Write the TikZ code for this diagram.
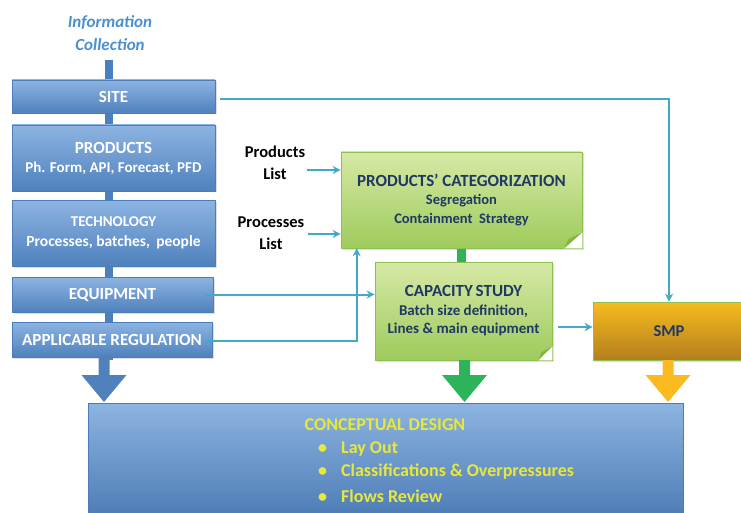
\documentclass[tikz,border=0pt]{standalone}
\usepackage{fontspec}
\setmainfont{Carlito}
\usetikzlibrary{shadows,arrows.meta}
\definecolor{boxtop}{HTML}{8DB4E2}
\definecolor{boxbot}{HTML}{4F81BD}
\definecolor{boxline}{HTML}{4A7EBB}
\definecolor{spine}{HTML}{4A7FC0}
\definecolor{greentop}{HTML}{D6E9A6}
\definecolor{greenbot}{HTML}{9ECB5C}
\definecolor{greenline}{HTML}{8CC152}
\definecolor{greenfold}{HTML}{86B447}
\definecolor{greenbar}{HTML}{2DB35A}
\definecolor{ambertop}{HTML}{F6BC1E}
\definecolor{amberbot}{HTML}{B47E1E}
\definecolor{amberarrow}{HTML}{FBBB20}
\definecolor{teal}{HTML}{43A9C4}
\definecolor{navy}{HTML}{1F3864}
\definecolor{titleblue}{HTML}{4A90CF}
\definecolor{hiyellow}{HTML}{E8E83A}
\tikzset{
  softshadow/.style={drop shadow={opacity=0.25,shadow xshift=1.5pt,shadow yshift=-1.5pt}},
  bluebox/.style={draw=boxline,line width=0.6pt,top color=boxtop,bottom color=boxbot,
    inner sep=0pt,align=center,text=white,softshadow},
  greenbox/.style={draw=greenline,line width=0.6pt,top color=greentop,bottom color=greenbot,
    inner sep=0pt,align=center,text=navy,softshadow},
  amberbox/.style={draw=greenline,line width=0.6pt,top color=ambertop,bottom color=amberbot,
    inner sep=0pt,align=center,text=navy,font=\bfseries\fontsize{16.5}{19}\selectfont,softshadow},
  conn/.style={draw=teal,line width=2pt,-{Stealth[length=8pt,width=8pt]}},
  label/.style={align=center,font=\bfseries\fontsize{16.5}{22}\selectfont,text=black},
  big/.style={font=\bfseries\fontsize{17}{19}\selectfont},
  cdtext/.style={text=hiyellow,font=\bfseries\fontsize{18}{20}\selectfont},
}
% block arrow: #1 centre x, #2 top y, #3 colour
\newcommand{\blkarrow}[3]{%
  \fill[#3] (#1-5.5,#2) -- (#1+5.5,#2) -- (#1+5.5,375) -- (#1+22.5,375)
    -- (#1,402) -- (#1-22.5,375) -- (#1-5.5,375) -- cycle;}
\begin{document}
\begin{tikzpicture}[x=1pt,y=-1pt]
\useasboundingbox (0,0) rectangle (741,513);

% title
\node[align=center,text=titleblue,font=\bfseries\itshape\fontsize{17}{23}\selectfont] (title) at (110,33) {Information\\Collection};

% vertical spine behind the input boxes
\fill[spine] (105,60) rectangle (113,360);

% input boxes
\node[bluebox,minimum width=203pt,minimum height=33pt,big] (site) at (113.5,96.5) {SITE};
\node[bluebox,minimum width=203pt,minimum height=66pt,font=\bfseries\fontsize{15}{19}\selectfont] (prod) at (113.5,158)
  {{\fontsize{17}{19}\selectfont PRODUCTS}\\Ph. Form, API, Forecast, PFD};
\node[bluebox,minimum width=203pt,minimum height=66pt,font=\bfseries\fontsize{15.5}{20}\selectfont] (tech) at (113.5,233)
  {{\fontsize{15}{20}\selectfont TECHNOLOGY}\\Processes, batches,\, people};
\node[bluebox,minimum width=201pt,minimum height=35pt,big] (equip) at (112.5,294.5) {EQUIPMENT};
\node[bluebox,minimum width=200pt,minimum height=35pt,big] (reg) at (112,339.5) {APPLICABLE REGULATION};

% conceptual design box
\node[draw=boxline,line width=0.6pt,top color=boxtop,bottom color=boxbot!95!black,
  minimum width=595pt,minimum height=117pt,inner sep=0pt] (concept) at (385.5,461.5) {};
\node[cdtext] (cdtitle) at (385,425) {CONCEPTUAL DESIGN};
\node[cdtext,anchor=west,inner sep=0pt] (cd1) at (318,449) {\textbullet\hspace{14pt}Lay Out};
\node[cdtext,anchor=west,inner sep=0pt] (cd2) at (318,472) {\textbullet\hspace{14pt}Classifications \& Overpressures};
\node[cdtext,anchor=west,inner sep=0pt] (cd3) at (318,496) {\textbullet\hspace{14pt}Flows Review};

% green link between the two study boxes
\fill[greenbar] (457,246) rectangle (466,264);

% study boxes with a folded lower right corner
\node[greenbox,minimum width=241pt,minimum height=96pt,font=\bfseries\fontsize{14.5}{18.5}\selectfont] (cat) at (461.5,200)
  {{\fontsize{17}{19}\selectfont PRODUCTS' CATEGORIZATION}\\
   Segregation\\
   Containment\ \ Strategy};
\fill[white] (cat.south east) -- ([yshift=16pt]cat.south east) -- ([xshift=-18pt]cat.south east) -- cycle;
\fill[greenfold] ([yshift=16pt]cat.south east) -- ([xshift=-18pt]cat.south east) -- ([xshift=-14pt,yshift=9pt]cat.south east) -- cycle;

\node[greenbox,minimum width=177pt,minimum height=98pt,font=\bfseries\fontsize{15}{18.5}\selectfont] (cap) at (463.5,311)
  {{\fontsize{17}{19}\selectfont CAPACITY\,STUDY}\\
   Batch size definition,\\
   Lines \& main equipment};
\fill[white] (cap.south east) -- ([yshift=14pt]cap.south east) -- ([xshift=-14pt]cap.south east) -- cycle;
\fill[greenfold] ([yshift=14pt]cap.south east) -- ([xshift=-14pt]cap.south east) -- ([xshift=-11pt,yshift=8pt]cap.south east) -- cycle;

\node[amberbox,minimum width=152pt,minimum height=58pt] (smp) at (669,331) {SMP};

% side inputs
\node[label] (plist) at (275,163) {Products\\List};
\node[label] (pclist) at (271,233) {Processes\\List};

% connectors
\draw[conn] ([xshift=5pt,yshift=-3pt]site.east) -| (smp.north);
\draw[conn] ([xshift=-2pt,yshift=-7pt]plist.east) -- ([yshift=-7pt]plist.east -| cat.west);
\draw[conn] ([xshift=0pt,yshift=-1pt]pclist.east) -- ([yshift=-1pt]pclist.east -| cat.west);
\draw[conn] ([xshift=-8pt]equip.east) -- (equip.east -| cap.west);
\draw[conn] ([xshift=-8pt,yshift=-1.5pt]reg.east) -| ([xshift=16pt]cat.south west);
\draw[conn] ([xshift=6pt,yshift=-16pt]cap.east) -- ([yshift=-16pt]cap.east -| smp.west);

% block arrows into the conceptual design
\blkarrow{104}{357}{boxbot}
\blkarrow{464.5}{360}{greenbar}
\blkarrow{668}{360}{amberarrow}
\end{tikzpicture}
\end{document}
